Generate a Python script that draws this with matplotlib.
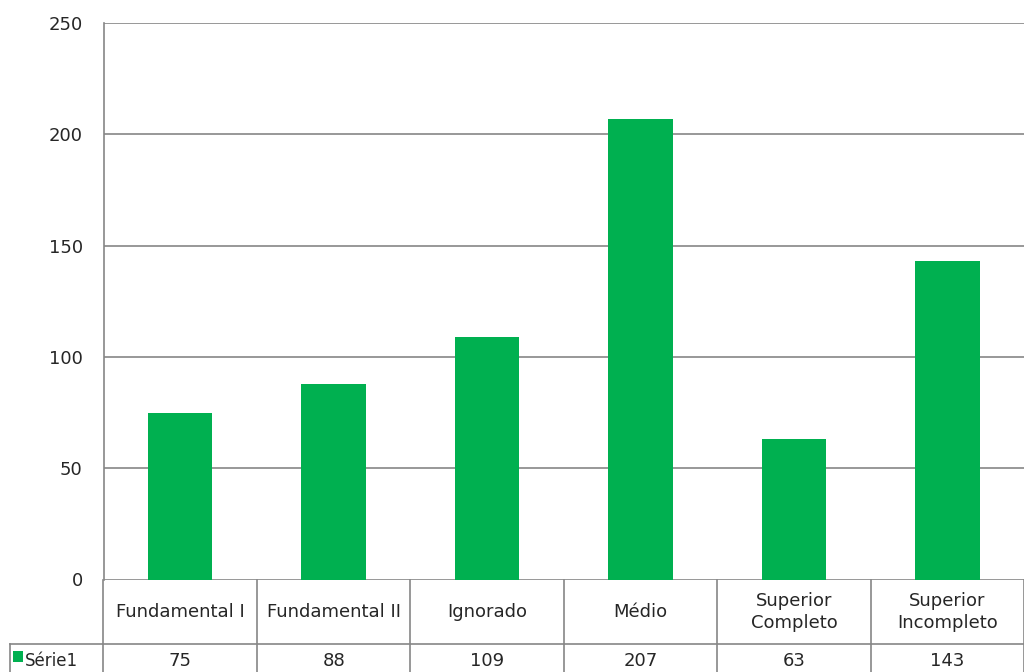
import matplotlib

matplotlib.use("Agg", force=True)

import matplotlib.pyplot as plt
from matplotlib.transforms import blended_transform_factory
from matplotlib.patches import Rectangle

categories = ["Fundamental I", "Fundamental II", "Ignorado", "Médio",
              "Superior\nCompleto", "Superior\nIncompleto"]
values = [75, 88, 109, 207, 63, 143]
series_name = "Série1"
y_ticks = [0, 50, 100, 150, 200, 250]

BAR_COLOR = "#00B050"
LINE_COLOR = "#868686"
TEXT_COLOR = "#262626"

W, H = 1024, 672
fig = plt.figure(figsize=(W / 100, H / 100), dpi=100)

# plot area in pixel coordinates (left, top, right, bottom)
px_left, px_top, px_right, px_bottom = 103.5, 23, 1024, 579.5
ax = fig.add_axes([px_left / W, 1 - px_bottom / H,
                   (px_right - px_left) / W, (px_bottom - px_top) / H])

x = list(range(len(categories)))
ax.bar(x, values, width=0.42, color=BAR_COLOR, zorder=3)

ax.set_xlim(-0.5, len(categories) - 0.5)
ax.set_ylim(0, 250)
ax.set_yticks(y_ticks)
ax.set_yticklabels([str(v) for v in y_ticks], fontsize=13, color=TEXT_COLOR)
ax.tick_params(axis="y", length=0, pad=15)
ax.set_xticks([])
ax.grid(axis="y", color=LINE_COLOR, linewidth=1.2, zorder=0)
for side in ["top", "right", "bottom"]:
    ax.spines[side].set_visible(False)
ax.spines["left"].set_color(LINE_COLOR)
ax.spines["left"].set_linewidth(1.2)

# data table below the plot area
tr = blended_transform_factory(ax.transData, fig.transFigure)
fig_tr = fig.transFigure
row_sep = 1 - 644 / H
row1_mid = 1 - 612 / H
row2_mid = 1 - 661 / H

for i in range(len(categories) + 1):
    ax.plot([i - 0.5, i - 0.5], [0, 1 - px_bottom / H], color=LINE_COLOR,
            linewidth=1.2, transform=tr, clip_on=False)

fig.add_artist(plt.Line2D([10 / W, 1], [row_sep, row_sep], color=LINE_COLOR,
                          linewidth=1.2, transform=fig_tr))
fig.add_artist(plt.Line2D([10 / W, 10 / W], [0, row_sep], color=LINE_COLOR,
                          linewidth=1.2, transform=fig_tr))

for xi, cat, val in zip(x, categories, values):
    ax.text(xi, row1_mid, cat, transform=tr, ha="center", va="center",
            fontsize=13, color=TEXT_COLOR, linespacing=1.35, clip_on=False)
    ax.text(xi, row2_mid, str(val), transform=tr, ha="center", va="center",
            fontsize=13, color=TEXT_COLOR, clip_on=False)

fig.add_artist(Rectangle((13 / W, 1 - 662 / H), 10 / W, 11 / H,
                         facecolor=BAR_COLOR, edgecolor="none", transform=fig_tr))
fig.text(25 / W, row2_mid, series_name, ha="left", va="center",
         fontsize=12, color=TEXT_COLOR)

fig.savefig("out.png", dpi=100, facecolor="white")
